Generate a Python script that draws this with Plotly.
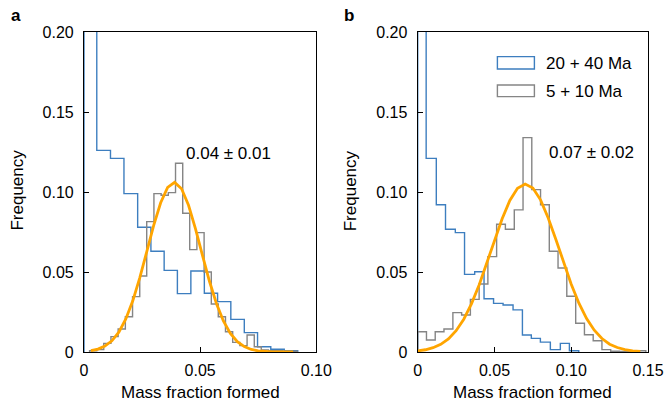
import plotly.graph_objects as go

# ---------------- data ----------------
# Panel a
a_blue_edges = [0.0, 0.0055, 0.0114, 0.0172, 0.0231, 0.0288, 0.0345, 0.0402, 0.0460,
                0.0518, 0.0575, 0.0632, 0.0690, 0.0747, 0.0804, 0.0862, 0.0920]
a_blue_freq = [0.27, 0.126, 0.121, 0.099, 0.078, 0.063, 0.051, 0.0365, 0.0506,
               0.0367, 0.0315, 0.0204, 0.0121, 0.0033, 0.0017, 0.0008]

a_gray_edges = [0.0024, 0.0055, 0.0085, 0.0116, 0.0147, 0.0178, 0.0209, 0.0240, 0.0270,
                0.0301, 0.0332, 0.0363, 0.0394, 0.0425, 0.0455, 0.0486, 0.0517, 0.0548,
                0.0578, 0.0609, 0.0640, 0.0671, 0.0702, 0.0733, 0.0763, 0.0794, 0.0825,
                0.0856, 0.0887, 0.0918]
a_gray_freq = [0.0008, 0.0015, 0.0054, 0.0096, 0.0144, 0.022, 0.0346, 0.0475, 0.0815,
               0.099, 0.098, 0.0996, 0.118, 0.0867, 0.064, 0.0746, 0.050, 0.030,
               0.022, 0.0127, 0.006, 0.004, 0.0106, 0.0033, 0.0013, 0.0008, 0.0008,
               0.0005, 0.0005]

a_fit_x = [0.003, 0.006, 0.009, 0.012, 0.015, 0.018, 0.021, 0.024, 0.027, 0.030,
           0.033, 0.036, 0.039, 0.042, 0.045, 0.048, 0.051, 0.054, 0.057, 0.060,
           0.063, 0.066, 0.069, 0.072, 0.075, 0.078, 0.081, 0.084, 0.087, 0.090]
a_fit_y = [0.0008, 0.0018, 0.0037, 0.0070, 0.0124, 0.0207, 0.0320, 0.0463, 0.0626, 0.0791,
           0.0933, 0.1029, 0.1060, 0.1020, 0.0917, 0.0770, 0.0604, 0.0442, 0.0303, 0.0194,
           0.0116, 0.0065, 0.0034, 0.0016, 0.0007, 0.0003, 0.0001, 0.0, 0.0, 0.0]

# Panel b
b_blue_edges = [0.0, 0.0055, 0.0121, 0.0181, 0.0245, 0.0305, 0.0371, 0.0432, 0.0494,
                0.0556, 0.0621, 0.0682, 0.0740, 0.0799, 0.0864, 0.0929, 0.0988, 0.1049]
b_blue_freq = [0.385, 0.121, 0.092, 0.0767, 0.0746, 0.0485, 0.0502, 0.0333, 0.0304,
               0.0294, 0.0263, 0.0106, 0.0085, 0.0062, 0.0015, 0.0054, 0.0008]

b_gray_edges = [0.0, 0.0057, 0.0114, 0.0171, 0.0229, 0.0286, 0.0343, 0.0400, 0.0457,
                0.0514, 0.0571, 0.0629, 0.0686, 0.0743, 0.0800, 0.0857, 0.0914, 0.0971,
                0.1029, 0.1086, 0.1143, 0.1200, 0.1257, 0.1314, 0.1371, 0.1429, 0.1486]
b_gray_freq = [0.0127, 0.0075, 0.0127, 0.0144, 0.0246, 0.0231, 0.0329, 0.0425, 0.0596,
               0.0798, 0.0767, 0.0888, 0.134, 0.1015, 0.092, 0.063, 0.0525, 0.0348,
               0.018, 0.0108, 0.007, 0.0015, 0.0005, 0.0003, 0.0003, 0.0008]

b_fit_x = [0.000, 0.005, 0.010, 0.015, 0.020, 0.025, 0.030, 0.035, 0.040, 0.045,
           0.050, 0.055, 0.060, 0.065, 0.070, 0.075, 0.080, 0.085, 0.090, 0.095,
           0.100, 0.105, 0.110, 0.115, 0.120, 0.125, 0.130, 0.135, 0.140, 0.145]
b_fit_y = [0.0007, 0.0014, 0.0027, 0.0048, 0.0082, 0.0133, 0.0205, 0.0301, 0.0419, 0.0554,
           0.0697, 0.0833, 0.0947, 0.1023, 0.1050, 0.1025, 0.0951, 0.0838, 0.0703, 0.0560,
           0.0424, 0.0305, 0.0209, 0.0136, 0.0084, 0.0049, 0.0028, 0.0015, 0.0007, 0.0004]

series_names = ["20 + 40 Ma", "5 + 10 Ma"]
fit_labels = ["0.04 \u00b1 0.01", "0.07 \u00b1 0.02"]
y_ticks = [0, 0.05, 0.10, 0.15, 0.20]
y_ticktext = ["0", "0.05", "0.10", "0.15", "0.20"]
a_x_ticks = [0, 0.05, 0.10]
a_x_ticktext = ["0", "0.05", "0.10"]
b_x_ticks = [0, 0.05, 0.10, 0.15]
b_x_ticktext = ["0", "0.05", "0.10", "0.15"]

# ---------------- styles ----------------
BLUE = "#3d7ebf"
GRAY = "#858585"
ORANGE = "#FFA500"
FONT = "Liberation Sans, Arial, Helvetica, sans-serif"


def step_xy(edges, vals):
    xs = [edges[0]] + list(edges[:-1]) + [edges[-1]]
    ys = [0] + list(vals) + [0]
    return xs, ys


fig = go.Figure()

for (edges, vals, col, xa, ya) in [
    (a_blue_edges, a_blue_freq, BLUE, "x", "y"),
    (a_gray_edges, a_gray_freq, GRAY, "x", "y"),
    (b_blue_edges, b_blue_freq, BLUE, "x2", "y2"),
    (b_gray_edges, b_gray_freq, GRAY, "x2", "y2"),
]:
    xs, ys = step_xy(edges, vals)
    fig.add_trace(go.Scatter(x=xs, y=ys, mode="lines", line=dict(color=col, width=1.4, shape="hv"),
                             xaxis=xa, yaxis=ya, showlegend=False, hoverinfo="skip"))

fig.add_trace(go.Scatter(x=a_fit_x, y=a_fit_y, mode="lines", line=dict(color=ORANGE, width=2.8),
                         xaxis="x", yaxis="y", showlegend=False))
fig.add_trace(go.Scatter(x=b_fit_x, y=b_fit_y, mode="lines", line=dict(color=ORANGE, width=2.8),
                         xaxis="x2", yaxis="y2", showlegend=False))

axis_common = dict(showline=True, linecolor="black", linewidth=1.2, mirror=True,
                   ticks="inside", ticklen=5, tickwidth=1.2, tickcolor="black",
                   showgrid=False, zeroline=False, automargin=False,
                   tickfont=dict(family=FONT, size=16, color="black"))

fig.update_layout(
    width=667, height=410,
    margin=dict(l=83.5, r=19, t=32, b=58, autoexpand=False),
    paper_bgcolor="white", plot_bgcolor="white",
    showlegend=False,
    xaxis=dict(domain=[0, 0.4119], range=[0, 0.10], tickvals=a_x_ticks, ticktext=a_x_ticktext,
               ticklabelstandoff=4, **axis_common),
    yaxis=dict(domain=[0, 1], range=[0, 0.20], tickvals=y_ticks, ticktext=y_ticktext,
               ticklabelstandoff=6, **axis_common),
    xaxis2=dict(domain=[0.5917, 1.0], range=[0, 0.15], tickvals=b_x_ticks, ticktext=b_x_ticktext,
                ticklabelstandoff=4, anchor="y2", **axis_common),
    yaxis2=dict(domain=[0, 1], range=[0, 0.20], tickvals=y_ticks, ticktext=y_ticktext,
                ticklabelstandoff=6, anchor="x2", **axis_common),
)

tfont = dict(family=FONT, size=17, color="black")
ann = []
# axis titles
for xc in [0.2059, 0.7958]:
    ann.append(dict(text="Mass fraction formed", xref="paper", yref="paper", x=xc, y=-0.125,
                    xanchor="center", yanchor="middle", showarrow=False, font=tfont))
for xc in [-0.1187, 0.473]:
    ann.append(dict(text="Frequency", xref="paper", yref="paper", x=xc, y=0.5047, textangle=-90,
                    xanchor="center", yanchor="middle", showarrow=False, font=tfont))
# panel labels
for lab, xc in [("a", -0.1213), ("b", 0.4704)]:
    ann.append(dict(text="<b>%s</b>" % lab, xref="paper", yref="paper", x=xc, y=1.05,
                    xanchor="center", yanchor="middle", showarrow=False,
                    font=dict(family=FONT, size=17, color="black")))
# fit labels
ann.append(dict(text=fit_labels[0], xref="x", yref="y", x=0.0430, y=0.124, xanchor="left",
                yanchor="middle", showarrow=False, font=tfont))
ann.append(dict(text=fit_labels[1], xref="x2", yref="y2", x=0.0845, y=0.1246, xanchor="left",
                yanchor="middle", showarrow=False, font=tfont))
# legend text
for name, yc in zip(series_names, [0.1806, 0.1631]):
    ann.append(dict(text=name, xref="x2", yref="y2", x=0.0825, y=yc, xanchor="left",
                    yanchor="middle", showarrow=False, font=tfont))
fig.update_layout(annotations=ann)

# legend boxes
shapes = []
for col, (y0, y1) in zip([BLUE, GRAY], [(0.1769, 0.1846), (0.1596, 0.1669)]):
    shapes.append(dict(type="rect", xref="x2", yref="y2", x0=0.0519, x1=0.0760, y0=y0, y1=y1,
                       line=dict(color=col, width=1.4), fillcolor="rgba(0,0,0,0)"))
fig.update_layout(shapes=shapes)

fig.write_html("out.html")
